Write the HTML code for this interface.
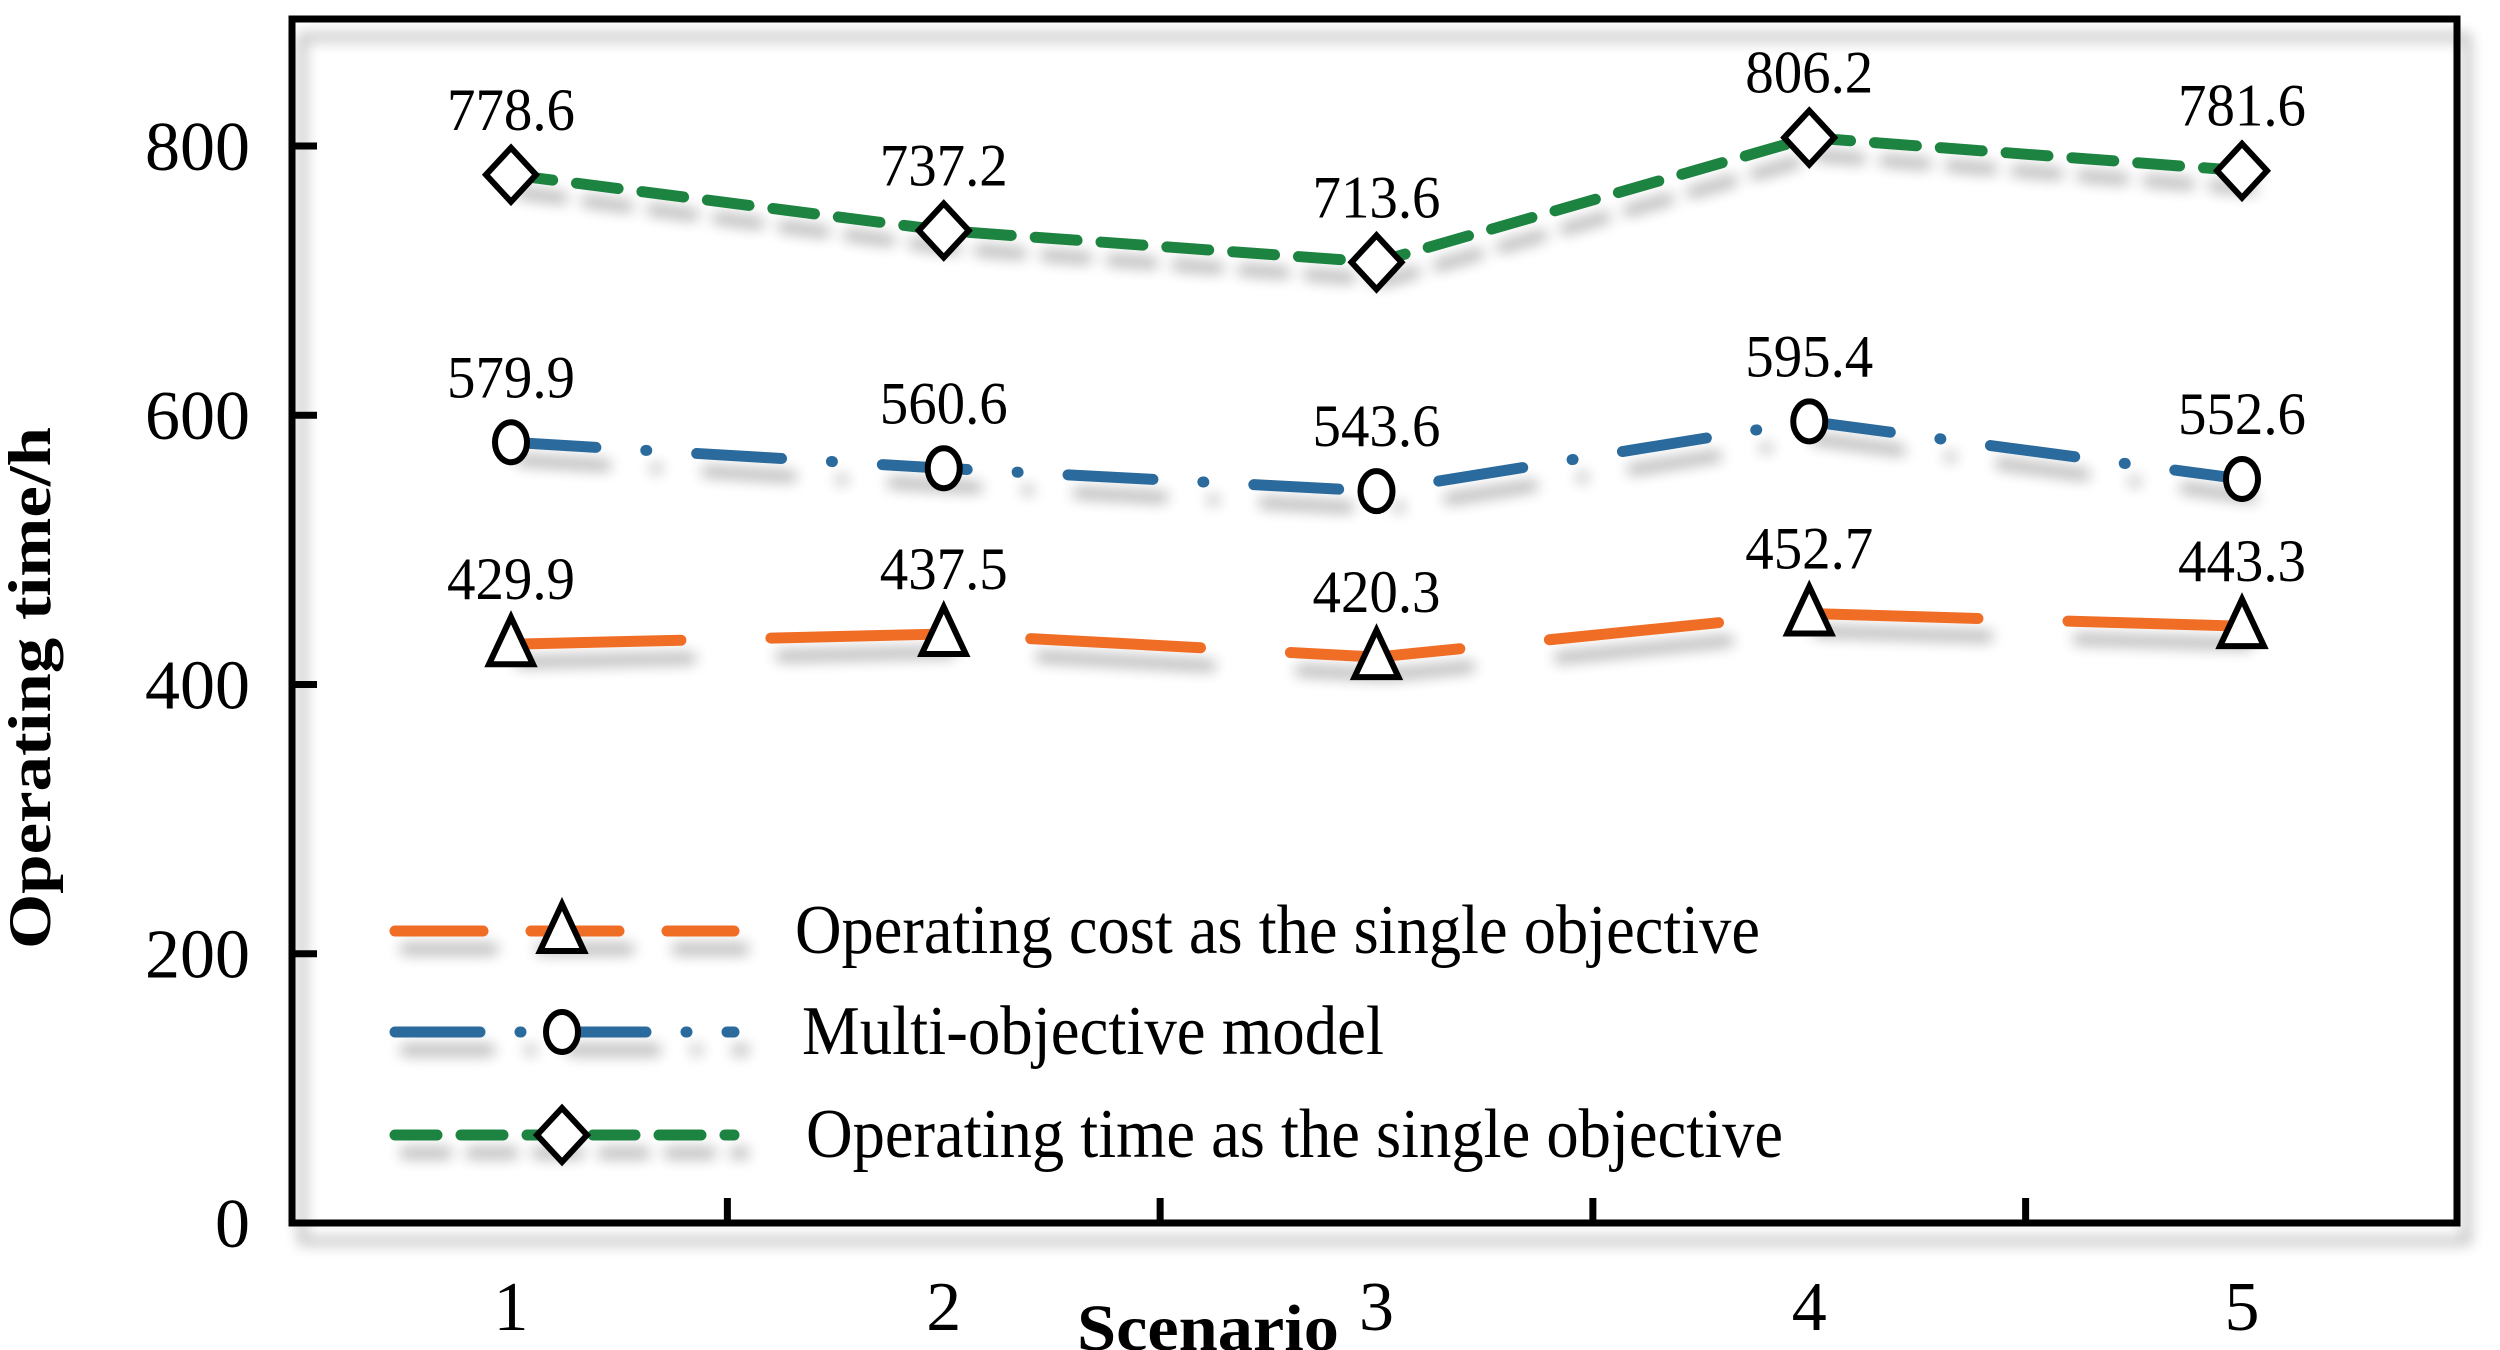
<!DOCTYPE html>
<html><head><meta charset="utf-8"><style>
html,body{margin:0;padding:0;background:#fff;}
svg{display:block;font-family:"Liberation Serif",serif;}
</style></head><body>
<svg id="chart" width="2500" height="1350" viewBox="0 0 2500 1350" xmlns="http://www.w3.org/2000/svg">
<defs>
<filter id="sh" filterUnits="userSpaceOnUse" x="0" y="0" width="2500" height="1350">
<feGaussianBlur in="SourceAlpha" stdDeviation="7"/>
<feOffset dx="10" dy="18" result="b"/>
<feComponentTransfer><feFuncA type="linear" slope="0.3"/></feComponentTransfer>
<feMerge><feMergeNode/><feMergeNode in="SourceGraphic"/></feMerge>
</filter>
</defs>
<g id="frame"></g>
<g id="series"></g>
<g id="legend"></g>
</svg>
<script>
const categories = ["1","2","3","4","5"];
const costValues = [429.9, 437.5, 420.3, 452.7, 443.3];
const multiValues = [579.9, 560.6, 543.6, 595.4, 552.6];
const timeValues = [778.6, 737.2, 713.6, 806.2, 781.6];
const yTicks = [0, 200, 400, 600, 800];

const NS = "http://www.w3.org/2000/svg";
const L = 292, R = 2457, T = 19, B = 1223;
const xPos = i => 511 + i * 432.75;
const yPos = v => B - v * 1.3463;
function mk(tag, attrs, parent, text) {
  const e = document.createElementNS(NS, tag);
  for (const k in attrs) e.setAttribute(k, attrs[k]);
  if (text !== undefined) e.textContent = text;
  parent.appendChild(e);
  return e;
}
const frame = document.getElementById('frame');
const series = document.getElementById('series');
const legend = document.getElementById('legend');

const box = mk('rect', {x:L, y:T, width:R-L, height:B-T, fill:'none', stroke:'#000', 'stroke-width':7, filter:'url(#sh)'}, frame);



yTicks.forEach(v => {
  const y = yPos(v);
  const t = mk('line', {x1:L, x2:L+25, y1:y, y2:y, stroke:'#000', 'stroke-width':7}, frame);
  
  
  const lb = mk('text', {x:250, y:y+24, 'font-size':70, 'text-anchor':'end'}, frame, String(v));
  
  
});
for (let i = 0; i < categories.length - 1; i++) {
  const x = (xPos(i) + xPos(i+1)) / 2;
  const t = mk('line', {x1:x, x2:x, y1:B, y2:B-25, stroke:'#000', 'stroke-width':7}, frame);
  
  
}
categories.forEach((c, i) => {
  const lb = mk('text', {x:xPos(i), y:1330, 'font-size':70, 'text-anchor':'middle'}, frame, c);
  
  
});
const xt = mk('text', {x:1208, y:1350, 'font-size':66, 'font-weight':'bold', 'text-anchor':'middle', textLength:262, lengthAdjust:'spacingAndGlyphs'}, frame, 'Scenario');


const yt = mk('text', {x:0, y:0, 'font-size':60, 'font-weight':'bold', 'text-anchor':'middle', textLength:522, lengthAdjust:'spacingAndGlyphs', transform:'translate(50,688) rotate(-90)'}, frame, 'Operating time/h');



function marker(type, x, y, parent) {
  let e;
  if (type === 'tri') e = mk('path', {d:`M${x} ${y-27} L${x+22} ${y+20} L${x-22} ${y+20} Z`, fill:'#fff', stroke:'#000', 'stroke-width':6, 'stroke-linejoin':'miter'}, parent);
  else if (type === 'circ') e = mk('ellipse', {cx:x, cy:y, rx:16, ry:20, fill:'#fff', stroke:'#000', 'stroke-width':6}, parent);
  else e = mk('path', {d:`M${x} ${y-27} L${x+25} ${y} L${x} ${y+27} L${x-25} ${y} Z`, fill:'#fff', stroke:'#000', 'stroke-width':6}, parent);
  return e;
}
const seriesDefs = [
  {name:'cost', vals:costValues, color:'#f06d25', dash:'170 90', m:'tri'},
  {name:'multi', vals:multiValues, color:'#2c6a9c', dash:'85 50 1 50', m:'circ'},
  {name:'time', vals:timeValues, color:'#1e8341', dash:'42 24', m:'diam'}
];
seriesDefs.forEach(s => {
  const pts = s.vals.map((v, i) => `${xPos(i)},${yPos(v)}`).join(' ');
  const pl = mk('polyline', {points:pts, fill:'none', stroke:s.color, 'stroke-width':11, 'stroke-linecap':'round', 'stroke-dasharray':s.dash, filter:'url(#sh)'}, series);
  
  
  s.vals.forEach((v, i) => {
    const mm = marker(s.m, xPos(i), yPos(v), series);
    
    
    const lb = mk('text', {x:xPos(i), y:yPos(v)-45, 'font-size':60, 'text-anchor':'middle', textLength:128, lengthAdjust:'spacingAndGlyphs'}, series, v.toFixed(1));
    
    
  });
});

const legendLabels = ['Operating cost as the single objective', 'Multi-objective model', 'Operating time as the single objective'];
const legendY = [931, 1032, 1135];
const legendTextW = [965, 582, 977];
const legendTextX = [795, 802, 806];
seriesDefs.forEach((s, k) => {
  const y = legendY[k];
  const dash = s.name === 'cost' ? '88 48' : s.name === 'multi' ? '85 40 1 40' : '42 24';
  const ln = mk('line', {x1:395, x2:734, y1:y, y2:y, stroke:s.color, 'stroke-width':11, 'stroke-linecap':'round', 'stroke-dasharray':dash, filter:'url(#sh)'}, legend);
  
  
  const mm = marker(s.m, 562, y, legend);
  
  
  const tx = mk('text', {x:legendTextX[k], y:y+22, 'font-size':70, textLength:legendTextW[k], lengthAdjust:'spacingAndGlyphs'}, legend, legendLabels[k]);
  
  
});
</script>
</body></html>
